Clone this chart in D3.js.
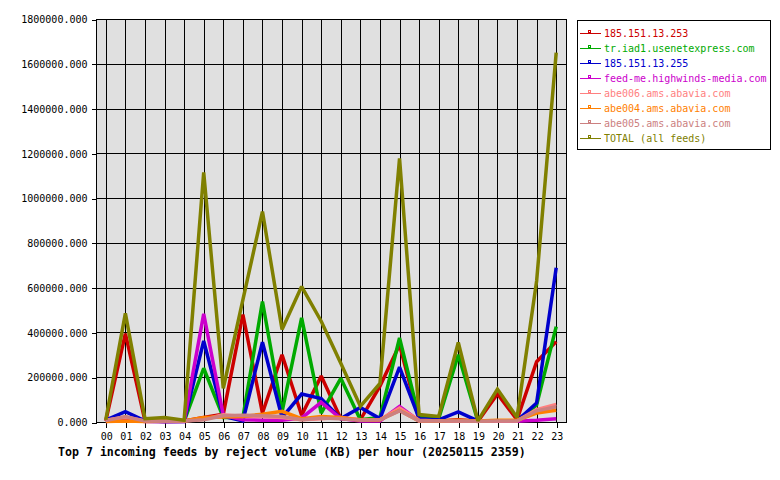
<!DOCTYPE html>
<html>
<head>
<meta charset="utf-8">
<script src="https://cdn.jsdelivr.net/npm/d3@7"></script>
<style>
  html, body { margin: 0; padding: 0; background: #ffffff; }
  svg { display: block; }
  text { font-family: "DejaVu Sans Mono", "Liberation Mono", monospace; }
</style>
</head>
<body>
<svg id="chart" width="780" height="480"></svg>
<script>
const hours = ["00","01","02","03","04","05","06","07","08","09","10","11","12","13","14","15","16","17","18","19","20","21","22","23"];

const seriesNames = [
  "185.151.13.253",
  "tr.iad1.usenetexpress.com",
  "185.151.13.255",
  "feed-me.highwinds-media.com",
  "abe006.ams.abavia.com",
  "abe004.ams.abavia.com",
  "abe005.ams.abavia.com",
  "TOTAL (all feeds)"
];
const seriesColors = ["#cc0000", "#00aa00", "#0000cc", "#cc00cc", "#ff8080", "#ff8000", "#cc8080", "#808000"];

const red253   = [5000, 395000, 5000, 3000, 5000, 20000, 35000, 480000, 40000, 300000, 30000, 205000, 15000, 10000, 160000, 345000, 10000, 5000, 10000, 3000, 125000, 10000, 269000, 359000];
const greenIad = [3000, 8000, 3000, 2000, 3000, 240000, 20000, 20000, 538000, 45000, 465000, 40000, 195000, 10000, 20000, 375000, 20000, 15000, 300000, 3000, 5000, 5000, 76000, 426000];
const blue255  = [8000, 46000, 5000, 2000, 2000, 362000, 25000, 5000, 357000, 20000, 125000, 105000, 15000, 65000, 15000, 245000, 15000, 10000, 45000, 5000, 5000, 5000, 85000, 689000];
const feedMe   = [2000, 10000, 2000, 1000, 2000, 483000, 30000, 10000, 8000, 8000, 18000, 88000, 15000, 5000, 5000, 70000, 5000, 5000, 3000, 3000, 3000, 3000, 8000, 15000];
const abe006   = [8000, 22000, 5000, 3000, 5000, 12000, 32000, 25000, 25000, 20000, 10000, 15000, 20000, 10000, 10000, 62000, 8000, 5000, 5000, 5000, 5000, 5000, 55000, 78000];
const abe004   = [2000, 5000, 2000, 5000, 5000, 20000, 22000, 25000, 35000, 48000, 15000, 25000, 20000, 8000, 10000, 52000, 5000, 5000, 8000, 5000, 8000, 8000, 40000, 52000];
const abe005   = [6000, 24000, 4000, 3000, 4000, 10000, 28000, 30000, 28000, 25000, 10000, 18000, 15000, 8000, 10000, 50000, 5000, 4000, 4000, 3000, 4000, 4000, 50000, 68000];
const totalAll = [10000, 485000, 15000, 20000, 8000, 1115000, 150000, 545000, 940000, 413000, 605000, 450000, 262000, 70000, 172000, 1177000, 33000, 25000, 355000, 5000, 147000, 20000, 630000, 1650000];

const yTicks = [0, 200000, 400000, 600000, 800000, 1000000, 1200000, 1400000, 1600000, 1800000];
const titleText = "Top 7 incoming feeds by reject volume (KB) per hour (20250115 2359)";

const seriesValues = [red253, greenIad, blue255, feedMe, abe006, abe004, abe005, totalAll];

const svg = d3.select("#chart");
const plot = { left: 96, right: 566, top: 19, bottom: 422 };

const x = d3.scalePoint().domain(hours).range([plot.left, plot.right]).padding(0.5);
const y = d3.scaleLinear().domain([0, 1800000]).range([plot.bottom, plot.top]);

// plot background
svg.append("rect")
  .attr("x", plot.left).attr("y", plot.top)
  .attr("width", plot.right - plot.left).attr("height", plot.bottom - plot.top)
  .attr("fill", "#e0e0e0");

// grid
const grid = svg.append("g").attr("shape-rendering", "crispEdges").attr("stroke", "#000").attr("stroke-width", 1);
yTicks.forEach(t => {
  const yy = Math.round(y(t)) + 0.5;
  grid.append("line").attr("x1", plot.left).attr("x2", plot.right).attr("y1", yy).attr("y2", yy);
});
hours.forEach(h => {
  const xx = Math.round(x(h)) + 0.5;
  grid.append("line").attr("x1", xx).attr("x2", xx).attr("y1", plot.top).attr("y2", plot.bottom);
});
// border
svg.append("rect")
  .attr("x", plot.left + 0.5).attr("y", plot.top + 0.5)
  .attr("width", plot.right - plot.left).attr("height", plot.bottom - plot.top)
  .attr("fill", "none").attr("stroke", "#000").attr("shape-rendering", "crispEdges");

// axes
const yAxis = d3.axisLeft(y).tickValues(yTicks).tickFormat(d3.format(".3f")).tickSize(5).tickPadding(4);
const yg = svg.append("g").attr("transform", `translate(${plot.left + 0.5},0.5)`).call(yAxis);
yg.select(".domain").remove();
yg.selectAll("line").attr("stroke", "#000").attr("shape-rendering", "crispEdges");
yg.selectAll("text").attr("font-size", "10px").attr("fill", "#000")
  .attr("font-family", "'DejaVu Sans Mono', monospace");

const xAxis = d3.axisBottom(x).tickSize(5).tickPadding(5);
const xg = svg.append("g").attr("transform", `translate(0.5,${plot.bottom + 0.5})`).call(xAxis);
xg.select(".domain").remove();
xg.selectAll("line").attr("stroke", "#000").attr("shape-rendering", "crispEdges");
xg.selectAll("text").attr("font-size", "10px").attr("fill", "#000")
  .attr("font-family", "'DejaVu Sans Mono', monospace");

// lines
const lineGen = d3.line().x((d, i) => x(hours[i])).y(d => y(d));
const linesG = svg.append("g");
seriesValues.forEach((vals, si) => {
  linesG.append("path")
    .datum(vals)
    .attr("d", lineGen)
    .attr("fill", "none")
    .attr("stroke", seriesColors[si])
    .attr("stroke-width", 3.5)
    .attr("stroke-linejoin", "miter")
    .attr("stroke-miterlimit", 2);
});

// title
svg.append("text")
  .attr("x", 58).attr("y", 456)
  .attr("font-size", "11.6px").attr("font-weight", "bold").attr("fill", "#000")
  .text(titleText);

// legend
const lg = svg.append("g");
lg.append("rect").attr("x", 577.5).attr("y", 20.5).attr("width", 193).attr("height", 129)
  .attr("fill", "#fff").attr("stroke", "#000").attr("shape-rendering", "crispEdges");
seriesNames.forEach((name, i) => {
  const cy = 33 + i * 15;
  lg.append("line").attr("x1", 580).attr("x2", 601).attr("y1", cy + 0.5).attr("y2", cy + 0.5)
    .attr("stroke", seriesColors[i]).attr("stroke-width", 1).attr("shape-rendering", "crispEdges");
  lg.append("rect").attr("x", 588.5).attr("y", cy - 2.5).attr("width", 2).attr("height", 2)
    .attr("fill", "none").attr("stroke", seriesColors[i]).attr("shape-rendering", "crispEdges");
  lg.append("text").attr("x", 604).attr("y", cy + 4)
    .attr("font-size", "10px").attr("fill", seriesColors[i]).text(name);
});
</script>
</body>
</html>
